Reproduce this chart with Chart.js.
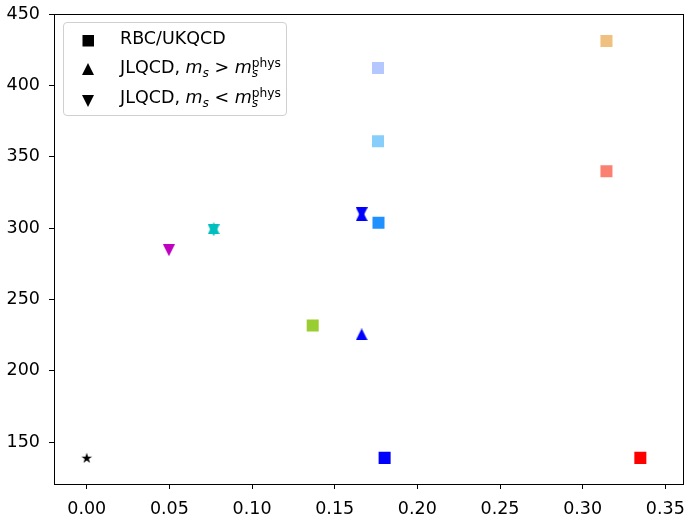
<!DOCTYPE html>
<html>
<head>
<meta charset="utf-8">
<script src="https://cdn.jsdelivr.net/npm/chart.js@4"></script>
<style>
  body { margin: 0; background: #fff; }
  #wrap { position: relative; width: 691px; height: 515px; }
  #legend {
    position: absolute; left: 63px; top: 22px; width: 222px; height: 92px;
    border: 1px solid #d0d0d0; border-radius: 4px; background: rgba(255,255,255,0.8);
    font-family: "DejaVu Sans", sans-serif; font-size: 17.5px; color: #000;
  }
  .row { position: absolute; left: 56px; height: 20px; line-height: 20px; white-space: nowrap; }
  .mk { position: absolute; left: 18px; }
  .m { font-style: italic; }
  .sb { font-style: italic; font-size: 0.7em; position: relative; top: 0.3em; }
  .ssw { position: relative; display: inline-block; }
  .sp { font-size: 0.7em; position: relative; top: -0.5em; }
  .sb2 { position: absolute; left: 0; top: 0.45em; font-size: 0.7em; font-style: italic; }
</style>
</head>
<body>
<div id="wrap">
  <canvas id="massChart"></canvas>
  <div id="legend">
    <svg class="mk" style="top:12px" width="12" height="12"><rect x="0.5" y="0" width="11.5" height="11.5" fill="#000"/></svg>
    <div class="row" style="top:5px">RBC/UKQCD</div>
    <svg class="mk" style="top:40px" width="12" height="12"><polygon points="6,0 12,12 0,12" fill="#000"/></svg>
    <div class="row" style="top:34px">JLQCD, <span class="m">m</span><span class="sb">s</span> &gt; <span class="m">m</span><span class="ssw"><span class="sp">phys</span><span class="sb2">s</span></span></div>
    <svg class="mk" style="top:72px" width="12" height="12"><polygon points="0,0 12,0 6,12" fill="#000"/></svg>
    <div class="row" style="top:64px">JLQCD, <span class="m">m</span><span class="sb">s</span> &lt; <span class="m">m</span><span class="ssw"><span class="sp">phys</span><span class="sb2">s</span></span></div>
  </div>
</div>
<script>
// values

// RBC/UKQCD ensembles (squares)
const rbcX = [0.1367, 0.1765, 0.1762, 0.1762, 0.1802, 0.3144, 0.3144, 0.3349];
const rbcY = [231.8, 303.7, 360.9, 412.1, 139.0, 431.1, 339.9, 139.0];
const rbcColors = ['#9acd32', '#1e90ff', '#87cefa', '#b4c8ff', '#0000ff', '#f0c080', '#fa8072', '#ff0000'];

// JLQCD, ms > ms_phys (up triangles)
const upX = [0.0768, 0.1663, 0.1663];
const upY = [299.9, 309.0, 225.5];
const upColors = ['#00bfbf', '#0000ff', '#0000ff'];

// JLQCD, ms < ms_phys (down triangles)
const downX = [0.0497, 0.0768, 0.1663];
const downY = [284.5, 298.5, 310.4];
const downColors = ['#bf00bf', '#00bfbf', '#0000ff'];

// physical point (star)
const physX = [0];
const physY = [139.0];

const xTicks = [0, 0.05, 0.10, 0.15, 0.20, 0.25, 0.30, 0.35];
const yTicks = [150, 200, 250, 300, 350, 400, 450];

const toPoints = (xs, ys) => xs.map((x, i) => ({ x: x, y: ys[i] }));

// little canvas markers, centred on their bounding box like matplotlib does
const makeMarker = (kind, color) => {
    const size = 12;
    const c = document.createElement('canvas');
    c.width = size;
    c.height = size;
    const g = c.getContext('2d');
    g.fillStyle = color;
    g.beginPath();
    if (kind === 'up') {
        g.moveTo(size / 2, 0); g.lineTo(size, size); g.lineTo(0, size);
    } else if (kind === 'down') {
        g.moveTo(0, 0); g.lineTo(size, 0); g.lineTo(size / 2, size);
    } else {
        const R = 5.6, r = R * 0.382;
        for (let k = 0; k < 10; k++) {
            const rad = k % 2 === 0 ? R : r;
            const a = -Math.PI / 2 + k * Math.PI / 5;
            const px = 6 + rad * Math.cos(a), py = 6.4 + rad * Math.sin(a);
            if (k === 0) g.moveTo(px, py); else g.lineTo(px, py);
        }
    }
    g.closePath();
    g.fill();
    return c;
};

Chart.defaults.font.family = '"DejaVu Sans", sans-serif';
Chart.defaults.color = '#000';

const frame = {
    id: 'frame',
    afterDraw(chart) {
        const { ctx, chartArea: a } = chart;
        ctx.save();
        ctx.strokeStyle = '#000';
        ctx.lineWidth = 1;
        ctx.strokeRect(Math.round(a.left) + 0.5, Math.round(a.top) + 0.5,
            Math.round(a.right - a.left), Math.round(a.bottom - a.top));
        ctx.restore();
    },
};

// keep the plot box where it is, labels may hang over the edges
const noOverflow = (s) => {
    s.paddingLeft = 0; s.paddingRight = 0; s.paddingTop = 0; s.paddingBottom = 0;
};

const axisStyle = {
    grid: { display: true, drawOnChartArea: false, drawTicks: true, tickLength: 5, tickColor: '#000' },
    border: { display: false },
};

new Chart(document.getElementById('massChart'), {
    type: 'scatter',
    data: {
        datasets: [{
            label: 'RBC/UKQCD',
            data: toPoints(rbcX, rbcY),
            backgroundColor: rbcColors,
            pointStyle: 'rect',
            pointRadius: 8.5,
            borderWidth: 0,
        }, {
            label: 'JLQCD up',
            data: toPoints(upX, upY),
            pointStyle: upColors.map(c => makeMarker('up', c)),
            pointRadius: 6,
        }, {
            label: 'JLQCD down',
            data: toPoints(downX, downY),
            pointStyle: downColors.map(c => makeMarker('down', c)),
            pointRadius: 6,
        }, {
            label: 'physical',
            data: toPoints(physX, physY),
            pointStyle: makeMarker('star', '#000'),
            pointRadius: 6,
        }],
    },
    options: {
        responsive: true,
        maintainAspectRatio: false,
        animation: false,
        layout: { padding: { left: 0, right: 4, top: 14, bottom: 0 } },
        plugins: { legend: { display: false }, tooltip: { enabled: false } },
        scales: {
            x: {
                type: 'linear',
                min: -0.0198,
                max: 0.3604,
                ...axisStyle,
                afterBuildTicks: (s) => { s.ticks = xTicks.map(v => ({ value: v })); },
                afterFit: (s) => { s.height = 31; noOverflow(s); },
                ticks: { font: { size: 17.5 }, padding: 10, maxRotation: 0, callback: (v) => Number(v).toFixed(2) },
            },
            y: {
                type: 'linear',
                min: 120.7,
                max: 450,
                ...axisStyle,
                afterBuildTicks: (s) => { s.ticks = yTicks.map(v => ({ value: v })); },
                afterFit: (s) => { s.width = 54; noOverflow(s); },
                ticks: { font: { size: 17.5 }, padding: 9, callback: (v) => String(v) },
            },
        },
    },
    plugins: [frame],
});
</script>
</body>
</html>
